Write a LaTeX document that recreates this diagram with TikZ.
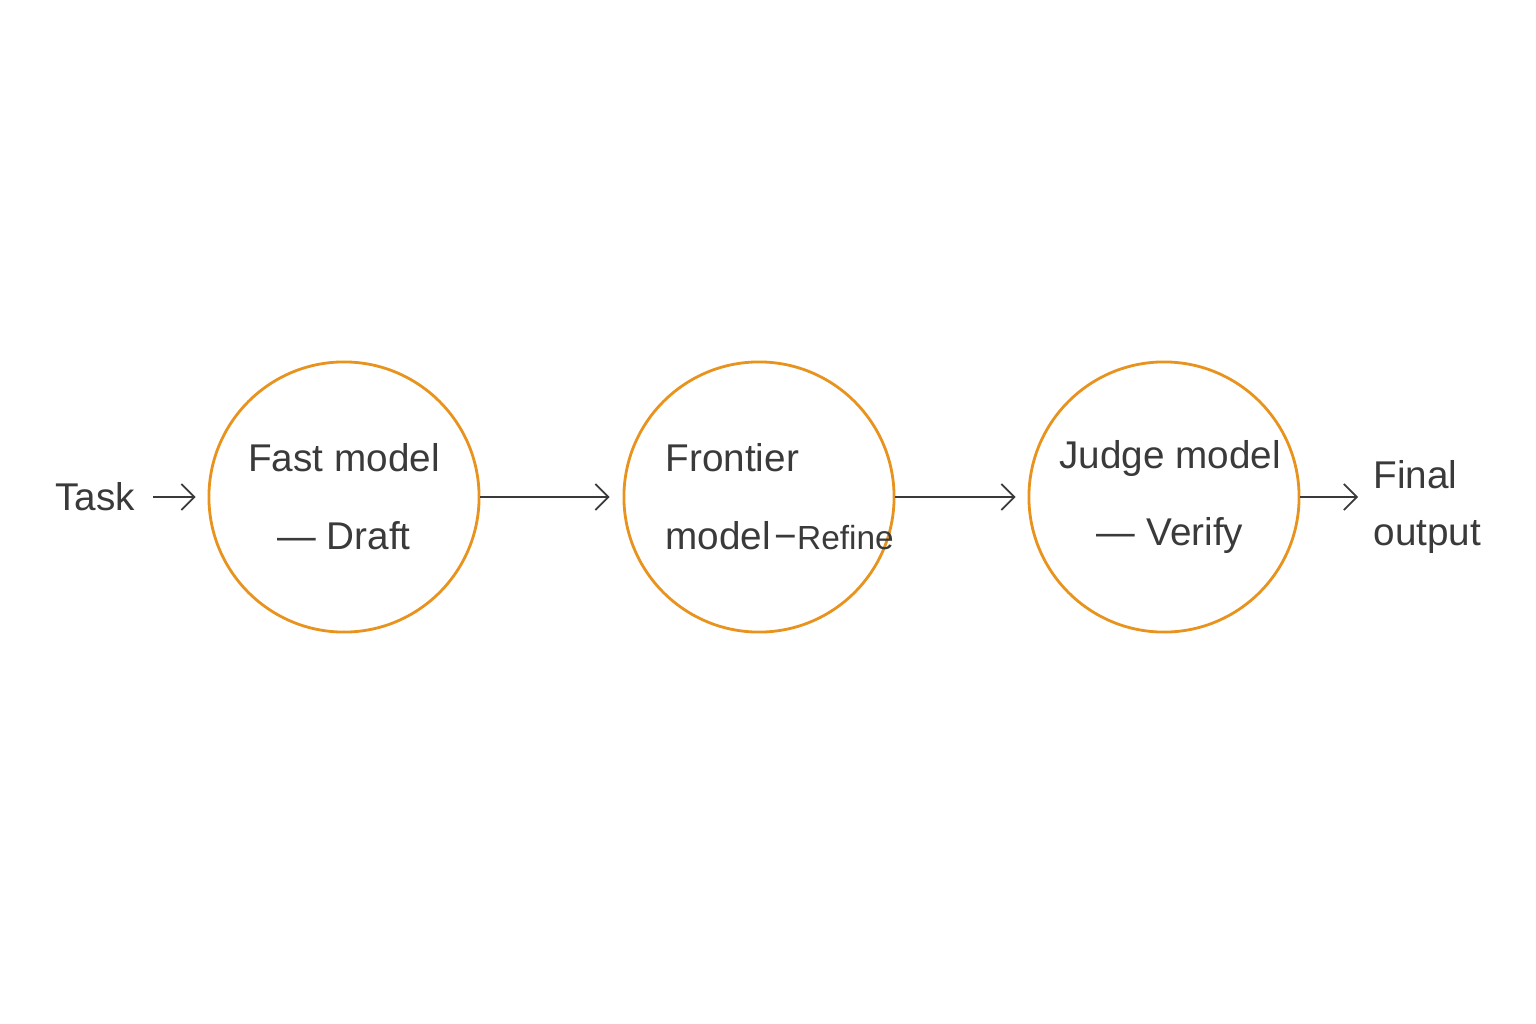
\documentclass[tikz,border=0pt]{standalone}
\usepackage{fontspec}
\setmainfont{Liberation Sans}
\usetikzlibrary{arrows.meta,positioning}
\definecolor{stageorange}{HTML}{E8931E}
\definecolor{inkgrey}{HTML}{3A3A3A}
\tikzset{
  stage/.style={circle,draw=stageorange,line width=0.8pt,minimum size=2.7cm,inner sep=0pt},
  lbl/.style={text=inkgrey,font=\fontsize{11}{15}\selectfont,align=left,inner sep=0pt},
  flow/.style={-{Straight Barb[length=1.3mm,width=2.6mm]},draw=inkgrey,line width=0.5pt}
}
\begin{document}
\begin{tikzpicture}[x=0.01cm,y=-0.01cm]
  \useasboundingbox (0,0) rectangle (1536,1024);
  % stages
  \node[stage] (draft) at (344,497) {};
  \node[stage] (refine) at (759,497) {};
  \node[stage] (verify) at (1164,497) {};
  \node[lbl,align=center] at (344,497) {Fast model\\[0.25cm]— Draft};
  \node[lbl,anchor=west] at (665,497) {Frontier\\[0.25cm]model{\kern1pt}−{\fontsize{9.5}{12}\selectfont Refine}};
  \node[lbl,align=center] at (1170,497) {Judge model\\[0.25cm]— Verify};
  % ends
  \node[lbl] (task) at (95,497) {Task};
  \node[lbl,anchor=west,align=left] (out) at (1373,507) {Final\\[0.05cm]output};
  \draw[flow] ([shift={(18,0)}]task.east) -- ([shift={(-12,0)}]draft.west);
  \draw[flow] (draft.east) -- ([shift={(-13,0)}]refine.west);
  \draw[flow] (refine.east) -- ([shift={(-12,0)}]verify.west);
  \draw[flow] (verify.east) -- ([shift={(-15,0)}]out.west |- verify.east);
\end{tikzpicture}
\end{document}
